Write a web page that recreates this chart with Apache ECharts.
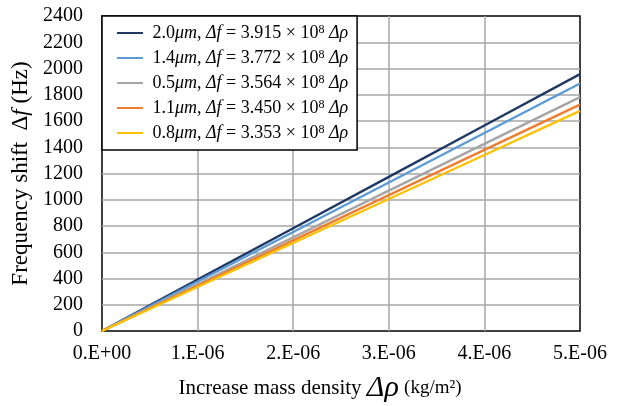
<!DOCTYPE html>
<html>
<head>
<meta charset="utf-8">
<script src="https://cdn.jsdelivr.net/npm/echarts@6/dist/echarts.min.js"></script>
<style>
    html, body {margin: 0; padding: 0; background: #fff;}
    #chart {width: 625px; height: 406px;}
</style>
</head>
<body>
<div id="chart"></div>
<script>
'use strict';

// 横轴数据(kg/m2)
let rhoValues = [0, 1e-6, 2e-6, 3e-6, 4e-6, 5e-6];
let xTickLabels = ['0.E+00', '1.E-06', '2.E-06', '3.E-06', '4.E-06', '5.E-06'];

// 各厚度的频移(Hz)
let shift20 = [0, 391.5, 783, 1174.5, 1566, 1957.5];
let shift14 = [0, 377.2, 754.4, 1131.6, 1508.8, 1886];
let shift05 = [0, 356.4, 712.8, 1069.2, 1425.6, 1782];
let shift11 = [0, 345, 690, 1035, 1380, 1725];
let shift08 = [0, 335.3, 670.6, 1005.9, 1341.2, 1676.5];

let seriesNames = ['2.0', '1.4', '0.5', '1.1', '0.8'];
let slopes = ['3.915', '3.772', '3.564', '3.450', '3.353'];
let colors = ['#203864', '#5B9BD5', '#A5A5A5', '#ED7D31', '#FFC000'];
let allShifts = [shift20, shift14, shift05, shift11, shift08];

let legendNames = seriesNames.map(function (s, i) {
    return s + 'μm, Δf = ' + slopes[i] + ' × 10^8 Δρ';
});

let series = allShifts.map(function (arr, i) {
    return {
        name: legendNames[i],
        type: 'line',
        showSymbol: false,
        symbol: 'none',
        lineStyle: {width: 2.4, color: colors[i]},
        itemStyle: {color: colors[i]},
        data: rhoValues.map(function (x, j) {
            return [x, arr[j]];
        })
    };
});

let myChart = echarts.init(document.getElementById('chart'));

let serif = '"Liberation Serif", "DejaVu Serif", serif';

let option = {
    animation: false,
    backgroundColor: '#fff',
    grid: {
        left: 102,
        right: 45,
        top: 16,
        bottom: 75,
        outerBoundsMode: 'none',
        containLabel: false,
        show: true,
        borderColor: '#000',
        borderWidth: 1.5
    },
    legend: {
        orient: 'vertical',
        left: 102,
        top: 16,
        padding: [8, 9, 7, 15],
        itemGap: 6,
        itemWidth: 26,
        itemHeight: 12,
        backgroundColor: '#fff',
        borderColor: '#000',
        borderWidth: 1.5,
        borderRadius: 0,
        icon: 'path://M0,5 L26,5 L26,7 L0,7 Z',
        data: legendNames,
        formatter: function (name) {
            let i = legendNames.indexOf(name);
            return ' ' + seriesNames[i] + '{i|μm}, {i|Δf} = ' + slopes[i] + ' × 10{sup|8} {i|Δρ}';
        },
        textStyle: {
            fontFamily: serif,
            fontSize: 18,
            lineHeight: 18,
            color: '#000',
            rich: {
                i: {fontFamily: serif, fontStyle: 'italic', fontSize: 18, lineHeight: 18, color: '#000'},
                sup: {fontFamily: serif, fontSize: 12, lineHeight: 18, color: '#000', verticalAlign: 'top', padding: [0, 0, 7, 0]}
            }
        }
    },
    xAxis: {
        type: 'value',
        min: 0,
        max: 5e-6,
        interval: 1e-6,
        name: 'Increase mass density {big|Δρ} {s|(kg/m²)}',
        nameLocation: 'middle',
        nameGap: 42,
        nameTextStyle: {
            fontFamily: serif,
            fontSize: 21,
            color: '#000',
            padding: [0, 42, 0, 0],
            rich: {
                big: {fontFamily: serif, fontSize: 30, fontStyle: 'italic', color: '#000'},
                s: {fontFamily: serif, fontSize: 19, color: '#000'}
            }
        },
        axisLine: {show: false},
        axisTick: {show: false},
        axisLabel: {
            fontFamily: serif,
            fontSize: 20,
            color: '#000',
            margin: 13,
            formatter: function (v) {
                let idx = Math.round(v / 1e-6);
                return xTickLabels[idx];
            }
        },
        splitLine: {show: true, showMinLine: false, showMaxLine: false, lineStyle: {color: '#A6A6A6', width: 1.5}}
    },
    yAxis: {
        type: 'value',
        min: 0,
        max: 2400,
        interval: 200,
        name: 'Frequency shift  Δ{i|f} (Hz)',
        nameLocation: 'middle',
        nameGap: 59,
        nameTextStyle: {
            fontFamily: serif,
            fontSize: 23,
            color: '#000',
            rich: {
                i: {fontFamily: serif, fontSize: 23, fontStyle: 'italic', color: '#000'}
            }
        },
        axisLine: {show: false},
        axisTick: {show: false},
        axisLabel: {
            fontFamily: serif,
            fontSize: 20,
            color: '#000',
            margin: 19,
            formatter: function (v) {
                return String(v);
            }
        },
        splitLine: {show: true, showMinLine: false, showMaxLine: false, lineStyle: {color: '#A6A6A6', width: 1.5}}
    },
    series: series
};

myChart.setOption(option);
</script>
</body>
</html>
